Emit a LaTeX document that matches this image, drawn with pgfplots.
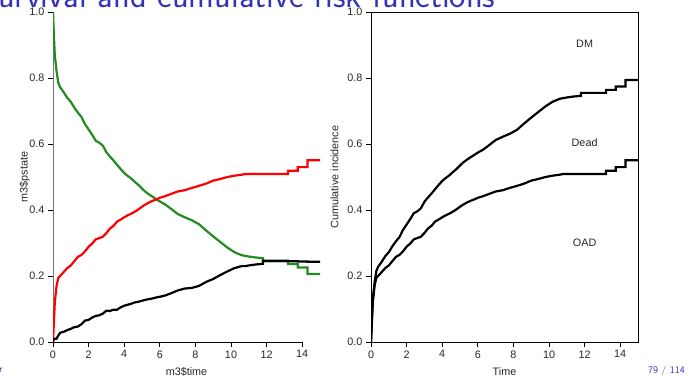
\documentclass[border=0pt]{standalone}
\usepackage{fontspec}
\usepackage{pgfplots}
\usepackage{pgfplotstable}
\pgfplotsset{compat=1.18}
\newfontfamily\arial{Liberation Sans}
\definecolor{beamerblue}{RGB}{51,51,179}
\definecolor{rgreen}{RGB}{34,139,34}

% t = time, L = cum. incidence DM (lower), U = DM + Dead (upper),
% B = Dead (U-L), G = alive without DM (1-U)
\pgfplotstableread{
t     L      U      B      G
0     0      0      0      1
0.05  0.060  0.070  0.010  0.930
0.1   0.120  0.130  0.010  0.870
0.2   0.170  0.180  0.010  0.820
0.3   0.195  0.215  0.020  0.785
0.4   0.200  0.228  0.028  0.772
0.6   0.212  0.243  0.031  0.757
0.8   0.224  0.260  0.036  0.740
1.0   0.232  0.272  0.040  0.728
1.2   0.245  0.290  0.045  0.710
1.4   0.258  0.305  0.047  0.695
1.6   0.264  0.318  0.054  0.682
1.8   0.275  0.340  0.065  0.660
2.0   0.289  0.356  0.067  0.644
2.2   0.298  0.372  0.074  0.628
2.4   0.311  0.390  0.079  0.610
2.6   0.315  0.396  0.081  0.604
2.8   0.319  0.405  0.086  0.595
3.0   0.330  0.425  0.095  0.575
3.2   0.344  0.438  0.094  0.562
3.4   0.352  0.450  0.098  0.550
3.6   0.365  0.463  0.098  0.537
3.8   0.371  0.476  0.105  0.524
4.0   0.378  0.488  0.110  0.512
4.2   0.384  0.497  0.113  0.503
4.4   0.389  0.505  0.116  0.495
4.6   0.395  0.515  0.120  0.485
4.8   0.402  0.524  0.122  0.476
5.0   0.410  0.535  0.125  0.465
5.2   0.417  0.545  0.128  0.455
5.4   0.423  0.553  0.130  0.447
5.6   0.428  0.560  0.132  0.440
5.8   0.432  0.567  0.135  0.433
6.0   0.437  0.574  0.137  0.426
6.3   0.442  0.583  0.141  0.417
6.6   0.448  0.595  0.147  0.405
7.0   0.456  0.612  0.156  0.388
7.4   0.460  0.622  0.162  0.378
7.8   0.467  0.631  0.164  0.369
8.2   0.473  0.643  0.170  0.357
8.6   0.480  0.662  0.182  0.338
9.0   0.489  0.680  0.191  0.320
9.4   0.494  0.697  0.203  0.303
9.8   0.500  0.714  0.214  0.286
10.2  0.504  0.728  0.224  0.272
10.6  0.507  0.737  0.230  0.263
10.8  0.509  0.739  0.230  0.261
11.0  0.509  0.741  0.232  0.259
11.4  0.509  0.744  0.235  0.256
11.8  0.509  0.746  0.237  0.254
11.8  0.509  0.755  0.246  0.245
13.2  0.509  0.755  0.246  0.245
13.2  0.519  0.764  0.245  0.236
13.75 0.519  0.764  0.245  0.236
13.75 0.530  0.774  0.244  0.226
14.3  0.530  0.774  0.244  0.226
14.3  0.551  0.794  0.243  0.206
15.0  0.551  0.794  0.243  0.206
}\cumdata

\pgfplotsset{
  rstyle/.style={
    scale only axis, width=267pt, height=330pt,
    anchor=south west,
    xmin=0, xmax=15, ymin=0, ymax=1,
    xtick={0,2,4,6,8,10,12,14},
    ytick={0,0.2,0.4,0.6,0.8,1},
    tick align=outside, xtick pos=bottom, ytick pos=left,
    major tick length=5pt,
    tick style={black, line width=0.8pt},
    /pgf/number format/assume math mode=true,
    yticklabel style={/pgf/number format/.cd, fixed, fixed zerofill, precision=1},
    ticklabel style={font=\arial\fontsize{10.8}{12}\selectfont, text=black!85},
    label style={font=\arial\fontsize{10.8}{12}\selectfont, text=black!85},
  }
}

\begin{document}
\begin{tikzpicture}[x=1pt,y=1pt]
\useasboundingbox (0,0) rectangle (700,378);
\node[anchor=base west, inner sep=0, text=beamerblue,
      font=\sffamily\fontsize{34.6}{38}\selectfont] at (-2,370.5)
      {urvival and cumulative risk functions};
\node[anchor=base west, inner sep=0, text=beamerblue,
      font=\sffamily\fontsize{10}{12}\selectfont] at (-1,6) {r};
\node[anchor=base east, inner sep=0, text=beamerblue,
      font=\sffamily\fontsize{10}{12}\selectfont] at (685,5) {79 / 114};

% Left panel
\begin{axis}[rstyle,
  at={(53pt,36pt)},
  axis line style={draw=none},
  xlabel={m3\$time}, ylabel={m3\$pstate},
  xlabel style={at={(axis description cs:0.5,-0.092)}, anchor=center},
  ylabel style={at={(axis description cs:-0.106,0.5)}, anchor=center},
]
\draw[black!55, line width=1.1pt] (axis cs:0,0) -- (axis cs:0,1);
\draw[black, line width=0.9pt] (axis cs:0,0) -- (axis cs:14,0);
\addplot[rgreen, line width=2.2pt] table[x=t, y=G] {\cumdata};
\addplot[red, line width=2.2pt] table[x=t, y=L] {\cumdata};
\addplot[black, line width=2.2pt] table[x=t, y=B] {\cumdata};
\end{axis}

% Right panel
\begin{axis}[rstyle,
  at={(371pt,36pt)},
  axis line style={black, line width=0.9pt},
  xlabel={Time}, ylabel={Cumulative incidence},
  xlabel style={at={(axis description cs:0.5,-0.09)}, anchor=center},
  ylabel style={at={(axis description cs:-0.137,0.5)}, anchor=center},
]
\addplot[black, line width=2.2pt] table[x=t, y=L] {\cumdata};
\addplot[black, line width=2.2pt] table[x=t, y=U] {\cumdata};
\node[font=\arial\fontsize{10.8}{12}\selectfont, text=black!85] at (axis cs:12,0.903) {DM};
\node[font=\arial\fontsize{10.8}{12}\selectfont, text=black!85] at (axis cs:12,0.603) {Dead};
\node[font=\arial\fontsize{10.8}{12}\selectfont, text=black!85] at (axis cs:12,0.30) {OAD};
\end{axis}
\end{tikzpicture}
\end{document}
